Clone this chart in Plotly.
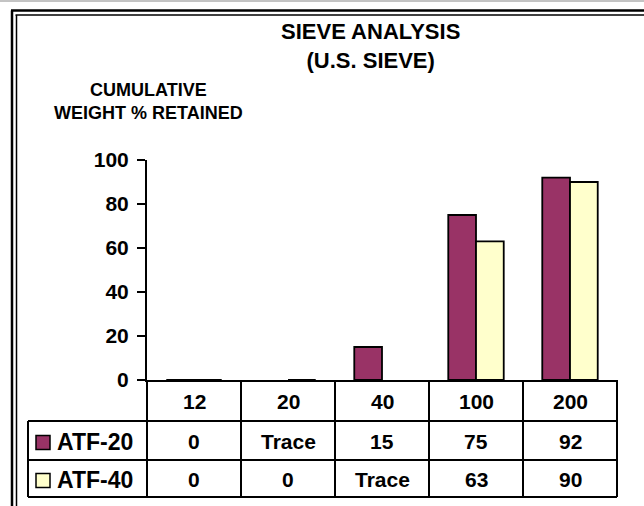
import plotly.graph_objects as go

# ---- data ----
sieves = ["12", "20", "40", "100", "200"]
series_names = ["ATF-20", "ATF-40"]
atf20_text = ["0", "Trace", "15", "75", "92"]
atf40_text = ["0", "0", "Trace", "63", "90"]
atf20_vals = [0, None, 15, 75, 92]
atf40_vals = [0, 0, None, 63, 90]
y_ticks = [0, 20, 40, 60, 80, 100]
title_lines = ["SIEVE ANALYSIS", "(U.S. SIEVE)"]
ylabel_lines = ["CUMULATIVE", "WEIGHT % RETAINED"]

colors = ["#993366", "#FFFFCC"]
FONT = "Liberation Sans, Arial, Helvetica, sans-serif"

W, H = 644, 506
L, R, T, B = 147, 617, 160, 380


def px(p):
    return (p - L) / (R - L)


def py(p):
    return (B - p) / (B - T)


def bfont(size):
    return dict(family=FONT, size=size, color="black", weight="bold")


fig = go.Figure()
for name, vals, col in zip(series_names, [atf20_vals, atf40_vals], colors):
    fig.add_trace(go.Bar(
        x=sieves, y=vals, name=name,
        marker=dict(color=col, line=dict(color="black", width=1.8)),
        showlegend=False, hoverinfo="skip",
    ))

shapes = []
ann = []
n = len(sieves)
# table rows (pixel y)
row_top, row1, row2, row3 = B, 421, 460, 497
tbl_left = 28
lw = 2
for yy in [row1, row2, row3]:
    shapes.append(dict(type="line", xref="paper", yref="paper",
                       x0=px(tbl_left), x1=1, y0=py(yy), y1=py(yy),
                       line=dict(color="black", width=lw)))
shapes.append(dict(type="line", xref="paper", yref="paper",
                   x0=px(tbl_left), x1=px(tbl_left), y0=py(row1), y1=py(row3),
                   line=dict(color="black", width=lw)))
for k in range(n + 1):
    shapes.append(dict(type="line", xref="paper", yref="paper",
                       x0=k / n, x1=k / n, y0=py(row_top), y1=py(row3),
                       line=dict(color="black", width=lw)))

for i, s in enumerate(sieves):
    for txt, (r0, r1) in [(s, (row_top, row1)), (atf20_text[i], (row1, row2)),
                          (atf40_text[i], (row2, row3))]:
        ann.append(dict(x=i, xref="x", y=py((r0 + r1) / 2 + 1), yref="paper",
                        xanchor="center", yanchor="middle",
                        text=txt, showarrow=False, font=bfont(21)))

# legend keys in the table
for (r0, r1), name, col in zip([(row1, row2), (row2, row3)], series_names, colors):
    cy = (r0 + r1) / 2 + 2
    shapes.append(dict(type="rect", xref="paper", yref="paper",
                       x0=px(36), x1=px(50), y0=py(cy - 7), y1=py(cy + 7),
                       fillcolor=col, line=dict(color="black", width=1.5)))
    ann.append(dict(x=px(55), xref="paper", y=py((r0 + r1) / 2 + 1), yref="paper",
                    xanchor="left", yanchor="middle", text=name, showarrow=False,
                    font=bfont(23)))

# frame
shapes.append(dict(type="line", xref="paper", yref="paper",
                   x0=px(0), x1=px(W), y0=py(1), y1=py(1),
                   line=dict(color="#888888", width=1)))
for (off, w) in [(11, 2.5), (15.5, 1.5)]:
    shapes.append(dict(type="line", xref="paper", yref="paper",
                       x0=px(off), x1=px(W + 5), y0=py(off - 0.5), y1=py(off - 0.5),
                       line=dict(color="black", width=w)))
    shapes.append(dict(type="line", xref="paper", yref="paper",
                       x0=px(off + 1), x1=px(off + 1), y0=py(off - 0.5), y1=py(H + 5),
                       line=dict(color="black", width=w)))

# titles
ann.append(dict(x=px(370), xref="paper", y=py(46), yref="paper",
                xanchor="center", yanchor="middle",
                text="<br>".join(title_lines), showarrow=False, font=bfont(22)))
ann.append(dict(x=px(148), xref="paper", y=py(101), yref="paper",
                xanchor="center", yanchor="middle",
                text="<br>".join(ylabel_lines), showarrow=False, font=bfont(18)))

fig.update_layout(
    width=W, height=H,
    margin=dict(l=L, r=W - R, t=T, b=H - B, pad=0),
    paper_bgcolor="white", plot_bgcolor="white",
    barmode="group", bargap=0.41, bargroupgap=0,
    shapes=shapes, annotations=ann,
    xaxis=dict(type="category", range=[-0.5, n - 0.5], showticklabels=False,
               ticks="", showline=True, linecolor="black", linewidth=2,
               showgrid=False, zeroline=False, fixedrange=True),
    yaxis=dict(range=[0, 100], tickvals=y_ticks, ticks="outside", ticklen=8,
               tickwidth=2, tickcolor="black", showline=True, linecolor="black",
               linewidth=2, showgrid=False, zeroline=False,
               tickfont=bfont(21), ticklabelstandoff=4, fixedrange=True),
)

fig.write_html("out.html", config={"displayModeBar": False},
               post_script="document.body.style.margin='0';")
